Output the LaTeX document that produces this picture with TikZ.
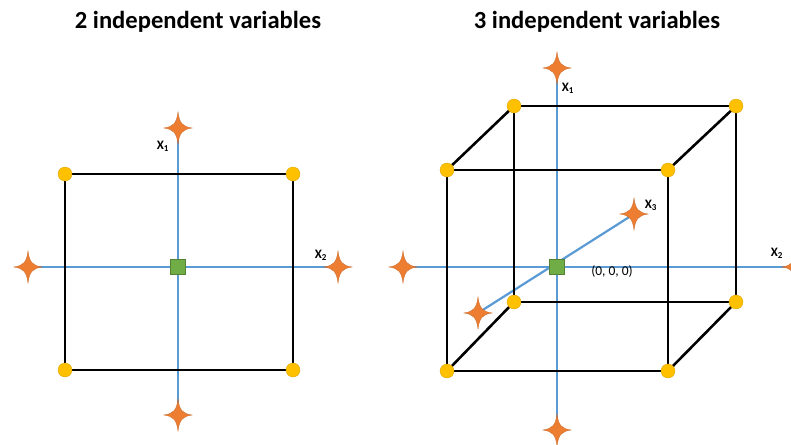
\documentclass[tikz,border=0pt]{standalone}
\usepackage{fontspec}
\setmainfont{Carlito}
\usetikzlibrary{positioning}
\definecolor{axblue}{HTML}{5B9BD5}
\definecolor{ptorange}{HTML}{ED7D31}
\definecolor{ptyellow}{HTML}{FFC000}
\definecolor{ptgreen}{HTML}{70AD47}

\begin{document}
\begin{tikzpicture}[
  x=0.03cm, y=-0.03cm,
  axis/.style={axblue, line width=1.9pt},
  edge/.style={black, line width=2.2pt},
  corner/.style={circle, fill=ptyellow, draw=ptyellow!85!black, line width=0.3pt, minimum size=0.42cm, inner sep=0pt},
  origin/.style={rectangle, fill=ptgreen, draw=ptgreen!75!black, line width=0.4pt, minimum size=0.45cm, inner sep=0pt},
  title/.style={font=\fontsize{21}{24}\selectfont\bfseries},
  varlabel/.style={font=\fontsize{11}{12}\selectfont\bfseries},
  sparkle/.pic={\fill[ptorange, draw=ptorange!85!black, line width=0.3pt] (0,-16) .. controls (1.5,-4.5) and (4.5,-1.5) .. (14,0) .. controls (4.5,1.5) and (1.5,4.5) .. (0,16) .. controls (-1.5,4.5) and (-4.5,1.5) .. (-14,0) .. controls (-4.5,-1.5) and (-1.5,-4.5) .. cycle;},
]
\useasboundingbox (0,0) rectangle (791,444);

\node[title] (title2) at (198,22) {2 independent variables};
\node[title] (title3) at (597,22) {3 independent variables};

% two variables
\coordinate (a0) at (178,267);
\coordinate (at) at (178,128);
\coordinate (ab) at (178,415);
\coordinate (al) at (28,267);
\coordinate (ar) at (338,267);
\coordinate (a1) at (65,174);
\coordinate (a2) at (293,174);
\coordinate (a3) at (293,370);
\coordinate (a4) at (65,370);
\draw[axis] (at) -- (ab);
\draw[axis] (al) -- (ar);
\draw[edge] (a1) -- (a2) -- (a3) -- (a4) -- cycle;
\foreach \i in {1,...,4} \node[corner] (ad\i) at (a\i) {};
\node[origin] (o2) at (a0) {};
\foreach \s in {at,ab,al,ar} \pic at (\s) {sparkle};
\node[varlabel] (ax1) at (163,146) {X\textsubscript{1}};
\node[varlabel] (ax2) at (321,255) {X\textsubscript{2}};

% three variables
\coordinate (b0) at (557,267);
\coordinate (bt) at (557,68);
\coordinate (bb) at (557,430);
\coordinate (bl) at (403,267);
\coordinate (br) at (796,267);
\coordinate (bf) at (478,313);
\coordinate (bk) at (634,214);
\coordinate (k1) at (514,106);
\coordinate (k2) at (736,106);
\coordinate (k3) at (736,302);
\coordinate (k4) at (514,302);
\coordinate (f1) at (447,170);
\coordinate (f2) at (668,170);
\coordinate (f3) at (668,371);
\coordinate (f4) at (447,371);
\draw[axis] (bt) -- (bb);
\draw[axis] (bl) -- (br);
\draw[axis] (bf) -- (bk);
\draw[edge] (k1) -- (k2) -- (k3) -- (k4) -- cycle;
\draw[edge] (f1) -- (f2) -- (f3) -- (f4) -- cycle;
\foreach \i in {1,...,4} \draw[edge] (k\i) -- (f\i);
\foreach \i in {1,...,4} {
  \node[corner] (kd\i) at (k\i) {};
  \node[corner] (fd\i) at (f\i) {};
}
\node[origin] (o3) at (b0) {};
\foreach \s in {bt,bb,bl,br,bf,bk} \pic at (\s) {sparkle};
\node[varlabel] (bx1) at (568,88) {X\textsubscript{1}};
\node[varlabel] (bx2) at (777,253) {X\textsubscript{2}};
\node[varlabel] (bx3) at (651,205) {X\textsubscript{3}};
\node[font=\fontsize{11.5}{13}\selectfont] (zero) at (612,272) {(0, 0, 0)};
\end{tikzpicture}
\end{document}
